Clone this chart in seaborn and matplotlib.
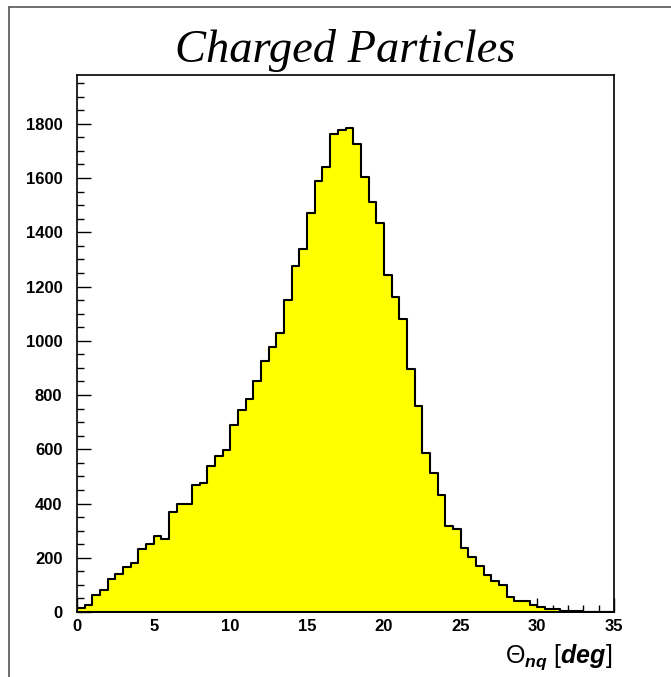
import numpy as np
import pandas as pd
import matplotlib
matplotlib.use("Agg")
import matplotlib.pyplot as plt
from matplotlib.lines import Line2D
import seaborn as sns

# ---- data ----
bin_width = 0.5
counts = [15, 27, 62, 80, 123, 139, 166, 180, 233, 251,
          281, 271, 368, 397, 399, 470, 474, 538, 577, 596,
          689, 745, 786, 850, 925, 977, 1027, 1152, 1276, 1339,
          1470, 1588, 1641, 1762, 1776, 1784, 1726, 1603, 1512, 1434,
          1243, 1161, 1079, 897, 759, 588, 513, 431, 316, 307,
          236, 202, 169, 137, 115, 101, 56, 41, 41, 24,
          17, 11, 11, 5, 2, 2, 1, 0, 0, 0]
x_ticks = [0, 5, 10, 15, 20, 25, 30, 35]
y_ticks = [0, 200, 400, 600, 800, 1000, 1200, 1400, 1600, 1800]
title = "Charged Particles"

edges = np.arange(len(counts) + 1) * bin_width
centers = (edges[:-1] + edges[1:]) / 2
df = pd.DataFrame({"theta": centers, "n": counts})

sns.set_theme(style="white")
plt.rcParams["font.family"] = ["Liberation Sans", "DejaVu Sans"]
plt.rcParams["text.color"] = "black"
plt.rcParams["xtick.color"] = "black"
plt.rcParams["ytick.color"] = "black"
plt.rcParams["mathtext.fontset"] = "custom"
plt.rcParams["mathtext.rm"] = "Liberation Sans"
plt.rcParams["mathtext.it"] = "Liberation Sans:italic"
plt.rcParams["mathtext.bf"] = "Liberation Sans:bold"
plt.rcParams["mathtext.bfit"] = "Liberation Sans:bold:italic"

W, H = 671, 677
fig = plt.figure(figsize=(W / 100, H / 100), dpi=100)
ax = fig.add_axes([77 / W, (H - 612) / H, (614 - 77) / W, (612 - 75) / H])

sns.histplot(data=df, x="theta", weights="n", binwidth=bin_width,
             binrange=(0, len(counts) * bin_width), element="step",
             fill=True, color="#ffff00", alpha=1.0, edgecolor="black",
             linewidth=1.5, ax=ax)

ax.set_xlim(0, 35)
ax.set_ylim(0, 1980)
ax.set_xticks(x_ticks)
ax.set_xticklabels([str(t) for t in x_ticks], fontweight="bold", fontsize=12,
                   color="black")
ax.set_yticks(y_ticks)
ax.set_yticklabels([str(t) for t in y_ticks], fontweight="bold", fontsize=12,
                   color="black")
ax.set_xticks(np.arange(0, 35.01, 1), minor=True)
ax.set_yticks(np.arange(0, 1980, 50), minor=True)
ax.tick_params(which="major", direction="in", length=10, width=1.0, color="black",
               left=True, bottom=True)
ax.tick_params(which="minor", direction="in", length=5, width=1.0, color="black",
               left=True, bottom=True)
ax.tick_params(axis="x", which="major", pad=5)
ax.tick_params(axis="y", which="major", pad=10.5)
ax.set_xlabel("")
ax.set_ylabel("")
for s in ax.spines.values():
    s.set_color("black")
    s.set_linewidth(1.2)

fig.text(612 / W, 1 - 663 / H, r"$\Theta_{\mathbfit{nq}}\ [\mathbfit{deg}]$",
         ha="right", va="baseline", fontsize=18, color="black")

fig.text(345 / W, 1 - 62.5 / H, title, ha="center", va="baseline",
         fontsize=33.5, fontstyle="italic", family=["Liberation Serif"],
         color="black")

# canvas border (top and left)
fig.add_artist(Line2D([9 / W, 1.0], [1 - 7 / H, 1 - 7 / H], color="#555555", lw=1.2))
fig.add_artist(Line2D([9 / W, 9 / W], [0, 1 - 7 / H], color="#555555", lw=1.2))

fig.savefig("out.png", dpi=100)
